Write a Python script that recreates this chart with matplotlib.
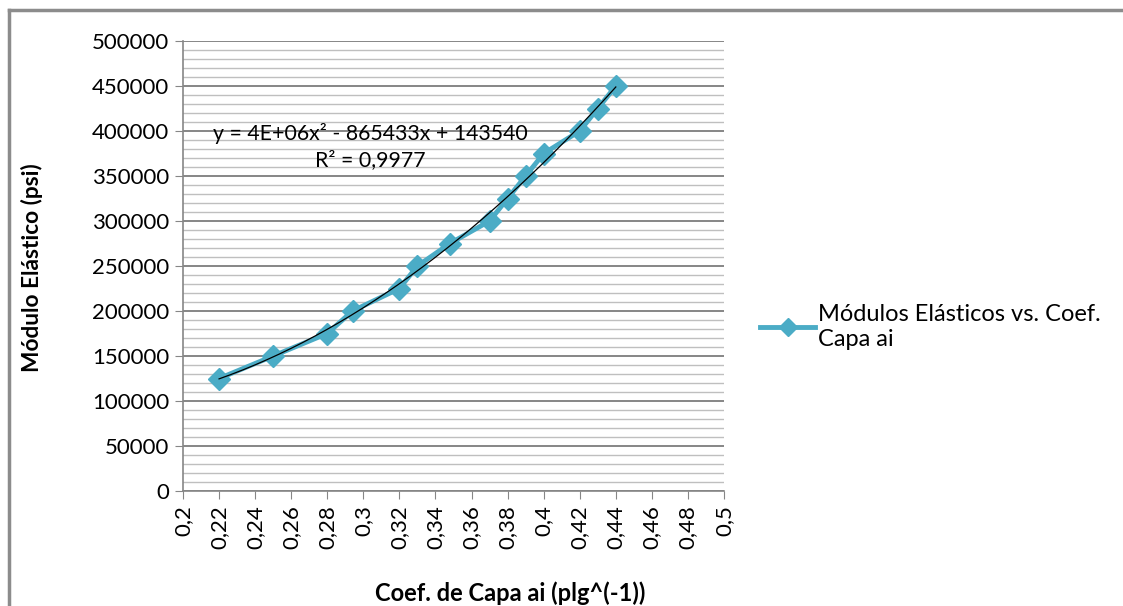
import numpy as np
import matplotlib
matplotlib.use('Agg')
import matplotlib.pyplot as plt
from matplotlib.ticker import MultipleLocator, FuncFormatter
from matplotlib.lines import Line2D

plt.rcParams['font.family'] = ['Lato', 'DejaVu Sans']

# data
coef_capa = [0.22, 0.25, 0.28, 0.294, 0.32, 0.33, 0.348, 0.37, 0.38, 0.39, 0.40, 0.42, 0.43, 0.44]
modulo = [125000, 150000, 175000, 200000, 225000, 250000, 275000, 300000,
          325000, 350000, 375000, 400000, 425000, 450000]
serie_label = 'Módulos Elásticos vs. Coef.\nCapa ai'
eq_text = 'y = 4E+06x² - 865433x + 143540\nR² = 0,9977'

blue = '#4BACC6'
grid_major = '#868686'
grid_minor = '#BFBFBF'

fig = plt.figure(figsize=(11.23, 6.06), dpi=100)
ax = fig.add_axes([183/1123, 1 - 491/606, 541/1123, 450/606])

# outer chart frame (left and top visible)
fig.add_artist(Line2D([9/1123, 9/1123], [0, 1 - 10/606], transform=fig.transFigure,
                      color='#8C8C8C', lw=2.5))
fig.add_artist(Line2D([9/1123, 1], [1 - 10/606, 1 - 10/606], transform=fig.transFigure,
                      color='#8C8C8C', lw=2.5))

ax.plot(coef_capa, modulo, color=blue, lw=3.5, marker='D', markersize=11,
        markerfacecolor=blue, markeredgecolor=blue, zorder=3, label=serie_label)

# polynomial trend line (order 2)
p = np.polyfit(coef_capa, modulo, 2)
xs = np.linspace(min(coef_capa), max(coef_capa), 200)
ax.plot(xs, np.polyval(p, xs), color='black', lw=0.9, zorder=4)

ax.text(0.346, 0.766, eq_text, transform=ax.transAxes, ha='center', va='center',
        fontsize=15.3, linespacing=1.4, zorder=5)

ax.set_xlim(0.2, 0.5)
ax.set_ylim(0, 500000)
ax.xaxis.set_major_locator(MultipleLocator(0.02))
ax.yaxis.set_major_locator(MultipleLocator(50000))
ax.yaxis.set_minor_locator(MultipleLocator(10000))
ax.xaxis.set_major_formatter(FuncFormatter(lambda v, pos: ('%g' % round(v, 2)).replace('.', ',')))
ax.yaxis.set_major_formatter(FuncFormatter(lambda v, pos: '%d' % v))

ax.grid(which='major', axis='y', color=grid_major, lw=1.4)
ax.grid(which='minor', axis='y', color=grid_minor, lw=1.0)
ax.set_axisbelow(True)

for s in ['top', 'right']:
    ax.spines[s].set_visible(False)
for s in ['left', 'bottom']:
    ax.spines[s].set_color(grid_major)
    ax.spines[s].set_linewidth(1.2)

ax.tick_params(axis='both', which='major', direction='out', length=6, color=grid_major,
               labelsize=16, pad=4)
ax.tick_params(axis='y', which='minor', length=0)
ax.tick_params(axis='x', labelrotation=90)

ax.set_xlabel('Coef. de Capa ai (plg^(-1))', fontsize=17, fontweight='bold')
ax.xaxis.set_label_coords((510 - 183) / 541, (491 - 593) / 450)
ax.xaxis.label.set_va('center')
ax.set_ylabel('Módulo Elástico (psi)', fontsize=16.3, fontweight='bold')
ax.yaxis.set_label_coords((32 - 183) / 541, (491 - 268) / 450)
ax.yaxis.label.set_va('center')

handle = Line2D([], [], color=blue, lw=3.5, marker='D', markersize=9)
fig.legend([handle], [serie_label], loc='center left', bbox_to_anchor=(760/1123, 1 - 327/606),
           frameon=False, fontsize=17, borderpad=0, borderaxespad=0,
           handlelength=2.33, handletextpad=0.13, labelspacing=0.3)

fig.savefig('out.png', dpi=100)
